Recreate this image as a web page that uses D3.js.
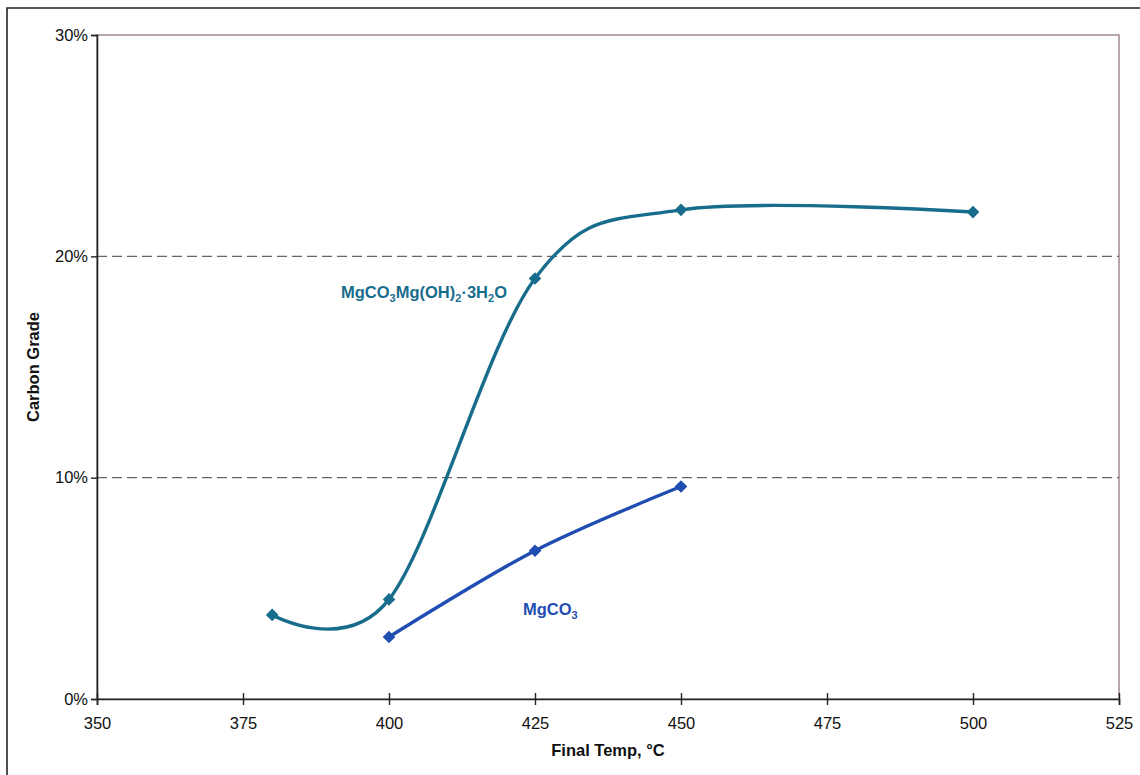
<!DOCTYPE html>
<html>
<head>
<meta charset="utf-8">
<script src="https://cdn.jsdelivr.net/npm/d3@7"></script>
<style>
  html, body { margin: 0; padding: 0; background: #fff; }
  svg { display: block; font-family: "Liberation Sans", Arial, sans-serif; }
</style>
</head>
<body>
<svg id="chart" width="1140" height="775"></svg>
<script>
// Carbon grade versus final temperature for two magnesium carbonate precursors
const tempsHydro = [380, 400, 425, 450, 500];
const gradeHydro = [3.8, 4.5, 19.0, 22.1, 22.0];
const tempsMgCO3 = [400, 425, 450];
const gradeMgCO3 = [2.8, 6.7, 9.6];
const xTicks = [350, 375, 400, 425, 450, 475, 500, 525];
const yTicks = [0, 10, 20, 30];

const svg = d3.select("#chart");
const margin = { left: 97, top: 35, right: 1119, bottom: 699 };

const x = d3.scaleLinear().domain([350, 525]).range([margin.left, margin.right]);
const y = d3.scaleLinear().domain([0, 30]).range([margin.bottom, margin.top]);

// outer chart frame
svg.append("path")
  .attr("d", `M7,${775 + 5} V8 H${1140 + 5}`)
  .attr("fill", "none").attr("stroke", "#222").attr("stroke-width", 1.6);

// plot area border
svg.append("rect")
  .attr("x", x(350)).attr("y", y(30))
  .attr("width", x(525) - x(350)).attr("height", y(0) - y(30))
  .attr("fill", "none").attr("stroke", "#9a8088").attr("stroke-width", 1.4);

// dashed gridlines
svg.append("g").selectAll("line")
  .data([10, 20]).join("line")
  .attr("x1", x(350)).attr("x2", x(525))
  .attr("y1", d => y(d)).attr("y2", d => y(d))
  .attr("stroke", "#666").attr("stroke-width", 1.1)
  .attr("stroke-dasharray", "10,5");

// y axis
const yAxis = svg.append("g")
  .attr("transform", `translate(${x(350)},0)`)
  .call(d3.axisLeft(y).tickValues(yTicks).tickFormat(d => d + "%").tickSize(6).tickPadding(3));
yAxis.select(".domain").attr("stroke", "#222").attr("stroke-width", 1.6);
yAxis.selectAll(".tick line").attr("stroke", "#222").attr("stroke-width", 1.4);
yAxis.selectAll("text").attr("font-size", 16.5).attr("fill", "#111");

// x axis, ticks crossing the baseline
const xAxis = svg.append("g")
  .attr("transform", `translate(0,${y(0)})`)
  .call(d3.axisBottom(x).tickValues(xTicks).tickSize(6).tickPadding(12));
xAxis.select(".domain").attr("stroke", "#222").attr("stroke-width", 1.6);
xAxis.selectAll(".tick line").attr("y1", -6).attr("y2", 6)
  .attr("stroke", "#222").attr("stroke-width", 1.4);
xAxis.selectAll("text").attr("font-size", 16.5).attr("fill", "#111");

// axis titles
svg.append("text")
  .attr("x", 608).attr("y", 756)
  .attr("text-anchor", "middle").attr("font-size", 16.5).attr("font-weight", "bold")
  .attr("fill", "#111").text("Final Temp, °C");
svg.append("text")
  .attr("transform", "translate(39,367) rotate(-90)")
  .attr("text-anchor", "middle").attr("font-size", 16.5).attr("font-weight", "bold")
  .attr("fill", "#111").text("Carbon Grade");

// series
const series = [
  { name: "hydro", xs: tempsHydro, ys: gradeHydro, color: "#196d8c" },
  { name: "mgco3", xs: tempsMgCO3, ys: gradeMgCO3, color: "#1f4db2" }
];

const line = d3.line()
  .x(d => x(d[0])).y(d => y(d[1]))
  .curve(d3.curveCardinal.tension(0));

series.forEach(s => {
  const pts = s.xs.map((t, i) => [t, s.ys[i]]);
  svg.append("path")
    .datum(pts)
    .attr("d", line)
    .attr("fill", "none")
    .attr("stroke", s.color)
    .attr("stroke-width", 3.4)
    .attr("stroke-linecap", "round");
  // square markers turned 45° to form diamonds
  svg.append("g").selectAll("path")
    .data(pts).join("path")
    .attr("transform", d => `translate(${x(d[0])},${y(d[1])}) rotate(45)`)
    .attr("d", d3.symbol(d3.symbolSquare, 80))
    .attr("fill", s.color);
});

// series labels with subscripts
function label(xPos, yPos, color, parts) {
  const t = svg.append("text")
    .attr("x", xPos).attr("y", yPos)
    .attr("font-size", 16.5).attr("font-weight", "bold").attr("fill", color);
  let lowered = false;
  parts.forEach(([txt, sub]) => {
    const span = t.append("tspan").text(txt);
    if (sub) {
      span.attr("font-size", 11).attr("dy", lowered ? 0 : 4);
      lowered = true;
    } else {
      span.attr("dy", lowered ? -4 : 0);
      lowered = false;
    }
  });
}
label(341, 298, "#196d8c",
  [["MgCO"], ["3", true], ["Mg(OH)"], ["2", true], ["·3H"], ["2", true], ["O"]]);
label(523, 615, "#1f4db2", [["MgCO"], ["3", true]]);
</script>
</body>
</html>
